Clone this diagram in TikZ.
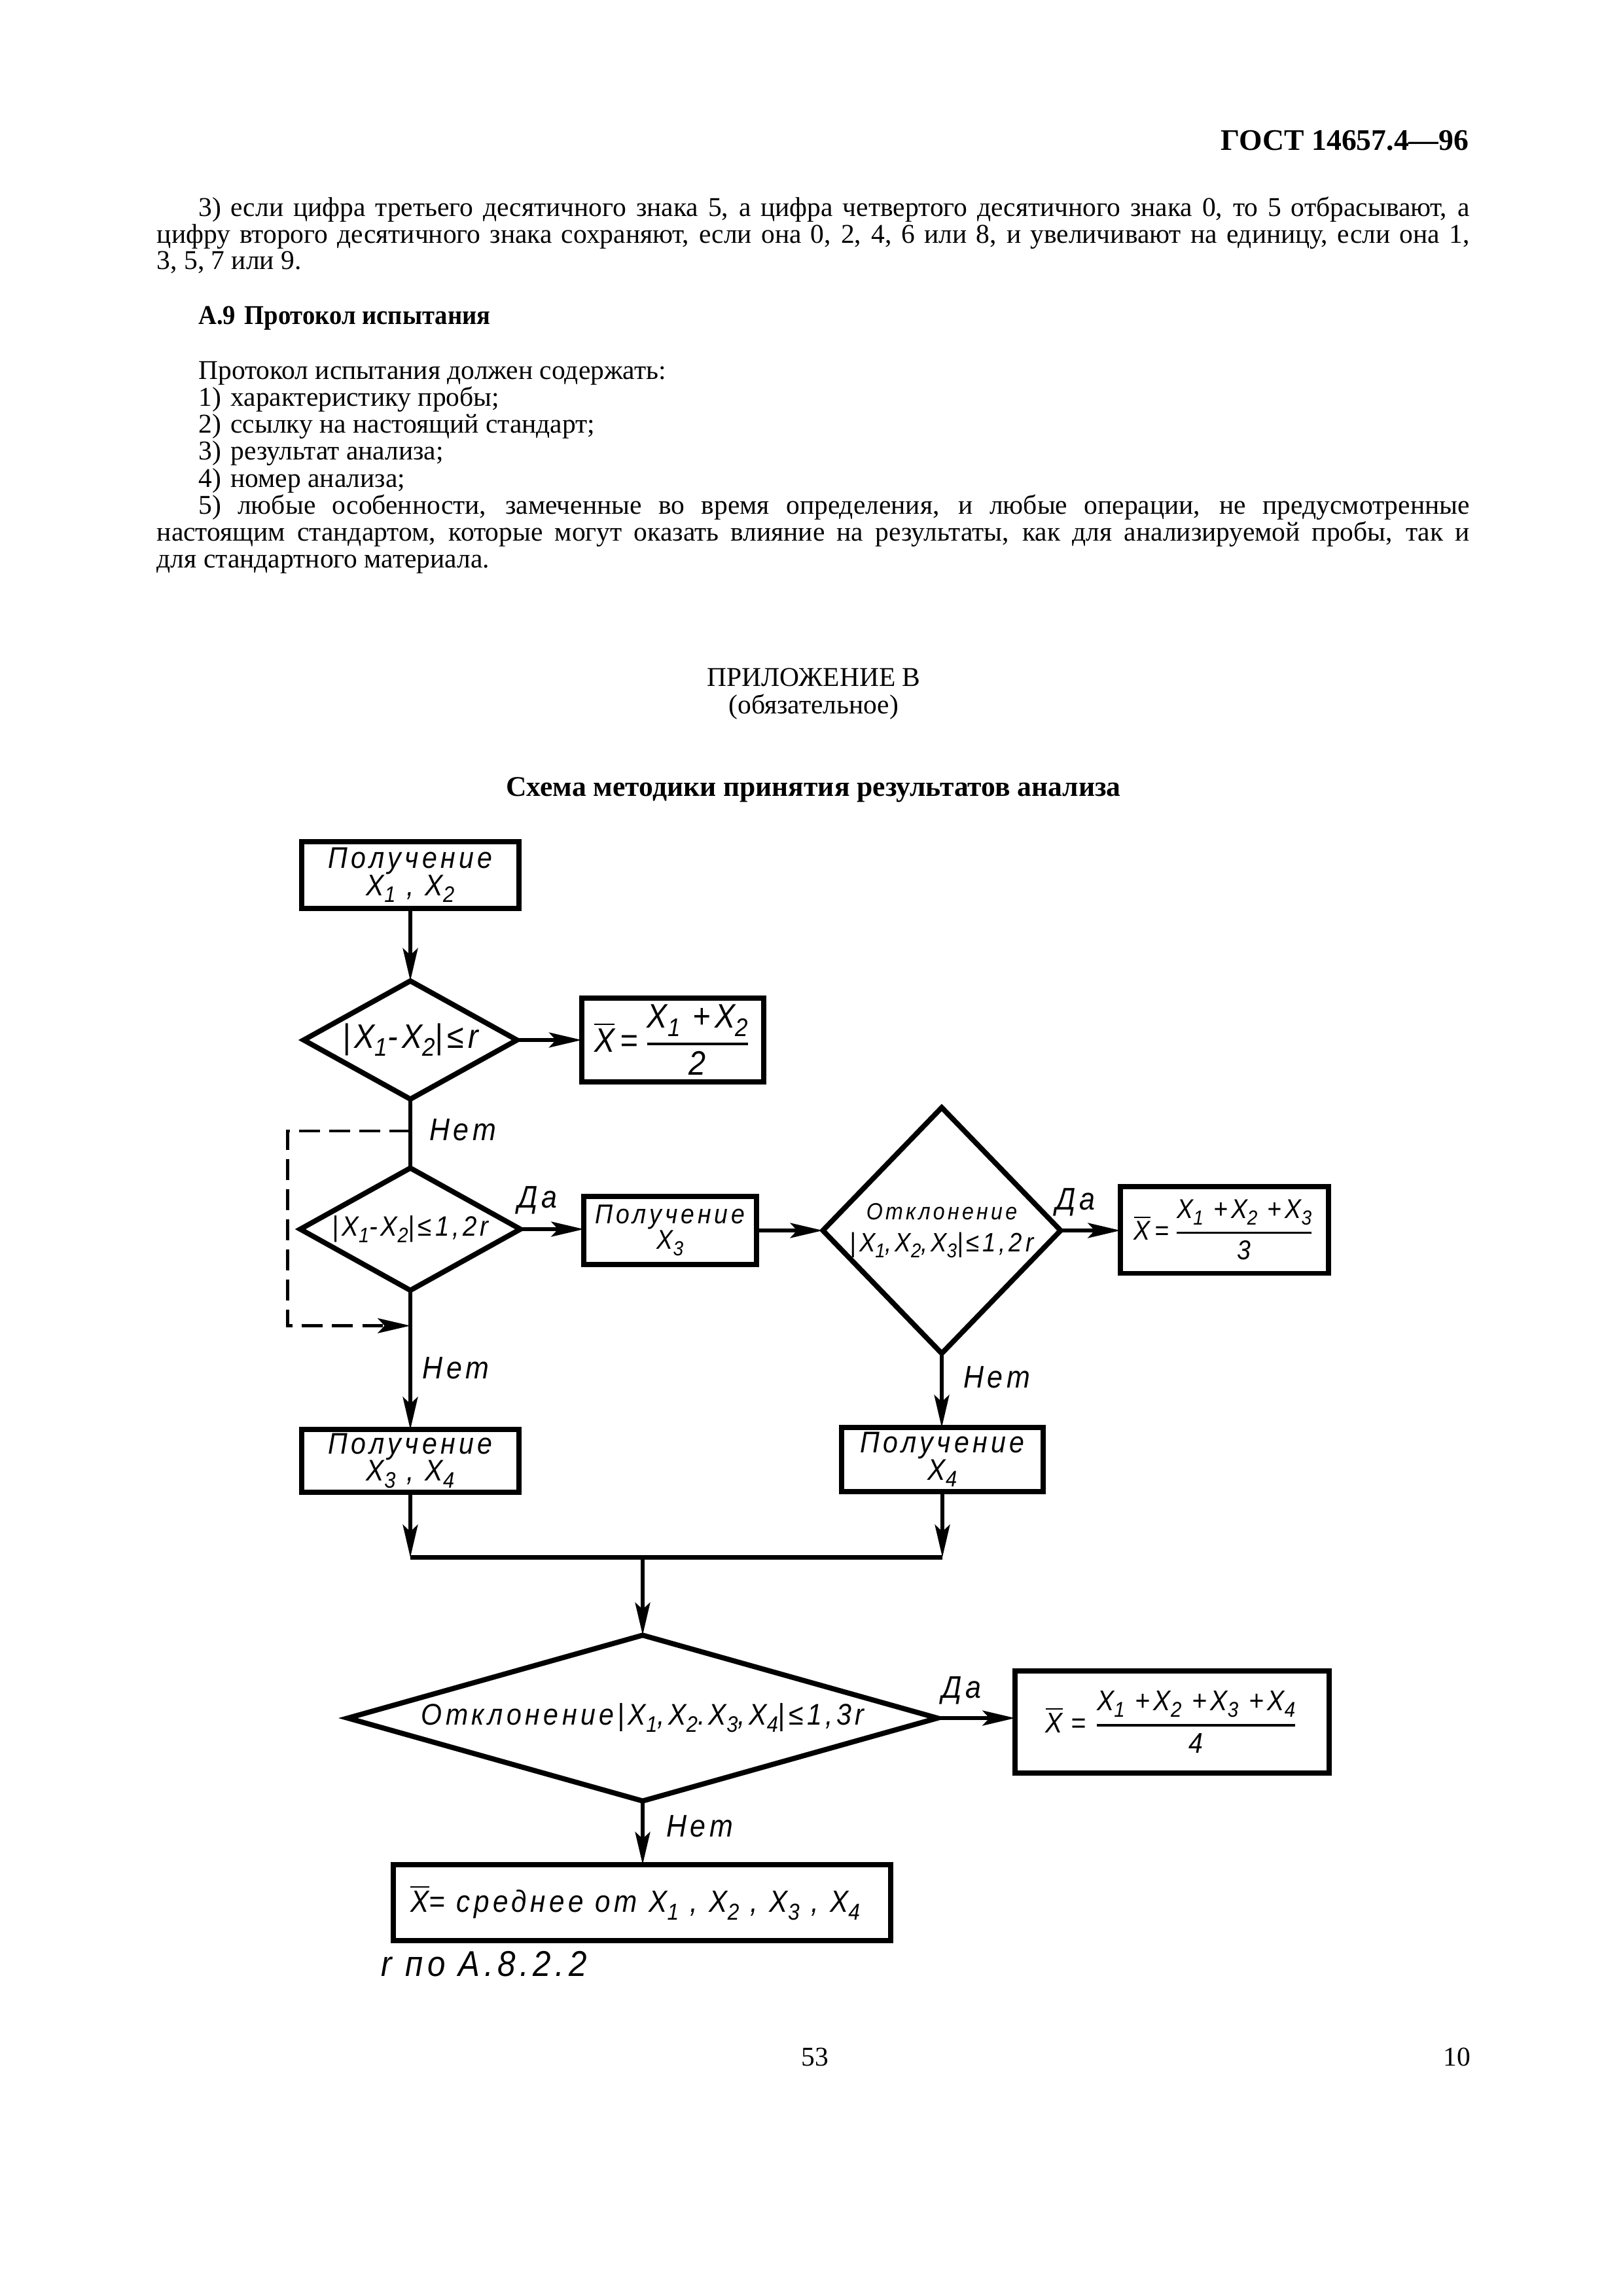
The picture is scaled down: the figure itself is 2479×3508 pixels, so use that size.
\documentclass[tikz,border=0pt]{standalone}
\usepackage{amsmath}
\usepackage{fontspec}
\usepackage{graphicx}
\setmainfont{Liberation Serif}
\newfontfamily\gost[FakeStretch=0.9,LetterSpace=12]{Liberation Sans}
\usetikzlibrary{shapes.geometric,arrows.meta}
\newcommand\sbx[1]{\raisebox{-0.45ex}{\scalebox{0.75}{#1}}}
\newcommand\xbar{\ensuremath{\overline{\mbox{X}}}}
\newcommand\gfrac[2]{\ensuremath{\genfrac{}{}{0.8pt}{0}{\mbox{#1}}{\mbox{#2}}}}
\newcommand\gp{\hspace{0.35em}}
\newcommand\gsz[1]{\fontsize{#1}{#1}\selectfont}
\tikzset{
  gf/.style={font=\gost\itshape\fontsize{#1}{#1}\selectfont},
  box/.style={draw, rectangle, line width=1.9pt, inner sep=0pt, outer sep=0pt, align=center, gf=11},
  dia/.style={draw, diamond, line width=1.9pt, inner sep=0pt, outer sep=0pt},
  lbl/.style={inner sep=0pt, align=center, gf=11.5},
  conn/.style={line width=1.5pt},
  arr/.style={conn, -{Stealth[length=12pt,width=5.5pt,inset=2.5pt]}},
  dashline/.style={line width=1.1pt, dash pattern=on 7.7pt off 3.4pt, -{Stealth[length=12pt,width=5.5pt,inset=2.5pt]}},
  body/.style={inner sep=0pt, anchor=base west, font=\fontsize{10}{10}\selectfont},
}
\begin{document}
\begin{tikzpicture}[x=0.24089pt, y=-0.24089pt]
\useasboundingbox (0,0) rectangle (2479,3508);
\fill[white] (0,0) rectangle (2479,3508);

% ---- page text ----
\node[body, anchor=base east, font=\bfseries\fontsize{11}{11}\selectfont] (hdr) at (2245,229) {ГОСТ 14657.4—96};
\node[body] (p1a) at (302.5,330) {\makebox[467.9pt][s]{3)\gp если цифра третьего десятичного знака 5, а цифра четвертого десятичного знака 0, то 5 отбрасывают, а}};
\node[body] (p1b) at (239,371.5) {\makebox[483.2pt][s]{цифру второго десятичного знака сохраняют, если она 0, 2, 4, 6 или 8, и увеличивают на единицу, если она 1,}};
\node[body] (p1c) at (239,411) {3, 5, 7 или 9.};
\node[body, font=\bfseries\fontsize{10}{10}\selectfont] (sec) at (302.5,495) {\scalebox{0.93}[1]{А.9\gp Протокол испытания}};
\node[body] (l0) at (302.5,579) {Протокол испытания должен содержать:};
\node[body] (l1) at (302.5,620) {1)\gp характеристику пробы;};
\node[body] (l2) at (302.5,661) {2)\gp ссылку на настоящий стандарт;};
\node[body] (l3) at (302.5,702.5) {3)\gp результат анализа;};
\node[body] (l4) at (302.5,744) {4)\gp номер анализа;};
\node[body] (l5) at (302.5,785) {\makebox[467.9pt][s]{5) любые особенности, замеченные во время определения, и любые операции, не предусмотренные}};
\node[body] (l6) at (239,826.5) {\makebox[483.2pt][s]{настоящим стандартом, которые могут оказать влияние на результаты, как для анализируемой пробы, так и}};
\node[body] (l7) at (239,867.5) {для стандартного материала.};
\node[body, anchor=base] (ap1) at (1243.5,1048) {ПРИЛОЖЕНИЕ В};
\node[body, anchor=base] (ap2) at (1243.5,1090) {(обязательное)};
\node[body, anchor=base, font=\bfseries\fontsize{10.5}{10.5}\selectfont] (ttl) at (1243,1216) {Схема методики принятия результатов анализа};
\node[body, anchor=base] (pg1) at (1245,3156) {53};
\node[body, anchor=base east] (pg2) at (2248,3156) {10};

% ---- flowchart ----
\node[box, minimum width=80pt, minimum height=24.5pt] (b1) at (627,1337) {Получение\\[-1pt]X\sbx{1} , X\sbx{2}};
\node[dia, minimum width=78.5pt, minimum height=43.5pt, label={[lbl, gf=12.5]center:|X\sbx{1}-X\sbx{2}|≤r}] (d1) at (627,1589) {};
\node[box, minimum width=67pt, minimum height=31pt, gf=12.5] (b2) at (1028,1589) {\xbar\,=\,\gfrac{X\sbx{1} +X\sbx{2}}{2}};
\node[dia, minimum width=81pt, minimum height=45pt, label={[lbl, gf=10.3]center:|X\sbx{1}-X\sbx{2}|≤1,2r}] (d2) at (627,1878) {};
\node[box, minimum width=63.5pt, minimum height=25pt, gf=10] (b3) at (1024,1880) {Получение\\[-0.5pt]X\sbx{3}};
\node[dia, minimum width=87.5pt, minimum height=90.5pt, label={[lbl, gf=9.8]center:{\gsz{8.6}Отклонение}\\[2pt]|X\sbx{1},X\sbx{2},X\sbx{3}|≤1,2r}] (d3) at (1439,1880) {};
\node[box, minimum width=76.5pt, minimum height=32pt, gf=10] (b4) at (1871,1879) {\xbar\,=\,\gfrac{X\sbx{1} +X\sbx{2} +X\sbx{3}}{3}};
\node[box, minimum width=80pt, minimum height=23pt] (b5) at (627,2232) {Получение\\[-1pt]X\sbx{3} , X\sbx{4}};
\node[box, minimum width=74pt, minimum height=23.5pt] (b6) at (1440,2230) {Получение\\[-1pt]X\sbx{4}};
\node[dia, minimum width=217pt, minimum height=61pt, label={[lbl, gf=11]center:Отклонение|X\sbx{1},X\sbx{2}.X\sbx{3},X\sbx{4}|≤1,3r}] (d4) at (982,2625) {};
\node[box, minimum width=115.5pt, minimum height=37.5pt, gf=10.5] (b7) at (1791,2631) {\xbar\;=\;\gfrac{X\sbx{1} +X\sbx{2} +X\sbx{3} +X\sbx{4}}{4}};
\node[box, minimum width=183pt, minimum height=28pt, gf=11.3] (b8) at (981,2907) {\raisebox{2.5pt}{\xbar = среднее от X\sbx{1} , X\sbx{2} , X\sbx{3} , X\sbx{4}}\hspace{5pt}};
\node[lbl, gf=13.2, anchor=west] (fn) at (582,3001) {r по А.8.2.2};

% labels
\node[lbl] (n1) at (707,1726) {Нет};
\node[lbl] (y1) at (821,1834) {Да};
\node[lbl] (y2) at (1643,1837) {Да};
\node[lbl] (n2) at (696.5,2090) {Нет};
\node[lbl] (n3) at (1523,2104) {Нет};
\node[lbl] (y3) at (1469,2583) {Да};
\node[lbl] (n4) at (1069,2790) {Нет};

% helper coordinates
\coordinate (dA) at (627,1728);
\coordinate (dL1) at (439.5,1728);
\coordinate (dL2) at (439.5,2025.5);
\coordinate (dB) at (627,2025.5);
\coordinate (jL) at (627,2379.5);
\coordinate (jR) at (1440,2379.5);
\coordinate (jM) at (982,2379.5);

% connectors
\draw[arr] (b1.south) -- (d1.north);
\draw[arr] (d1.east) -- (b2.west);
\draw[conn] (d1.south) -- (d2.north);
\draw[dashline] (dA) -- (dL1) -- (dL2) -- (dB);
\draw[arr] (d2.east) -- (d2.east -| b3.west);
\draw[arr] (b3.east) -- (b3.east -| d3.west);
\draw[arr] (d3.east) -- (d3.east -| b4.west);
\draw[arr] (d2.south) -- (b5.north);
\draw[arr] (d3.south) -- (d3.south |- b6.north);
\draw[arr] (b5.south) -- (jL);
\draw[arr] (b6.south) -- (b6.south |- jR);
\draw[conn] (jL) -- (jR);
\draw[arr] (jM) -- (d4.north);
\draw[arr] (d4.east) -- (d4.east -| b7.west);
\draw[arr] (d4.south) -- (d4.south |- b8.north);
\end{tikzpicture}
\end{document}
